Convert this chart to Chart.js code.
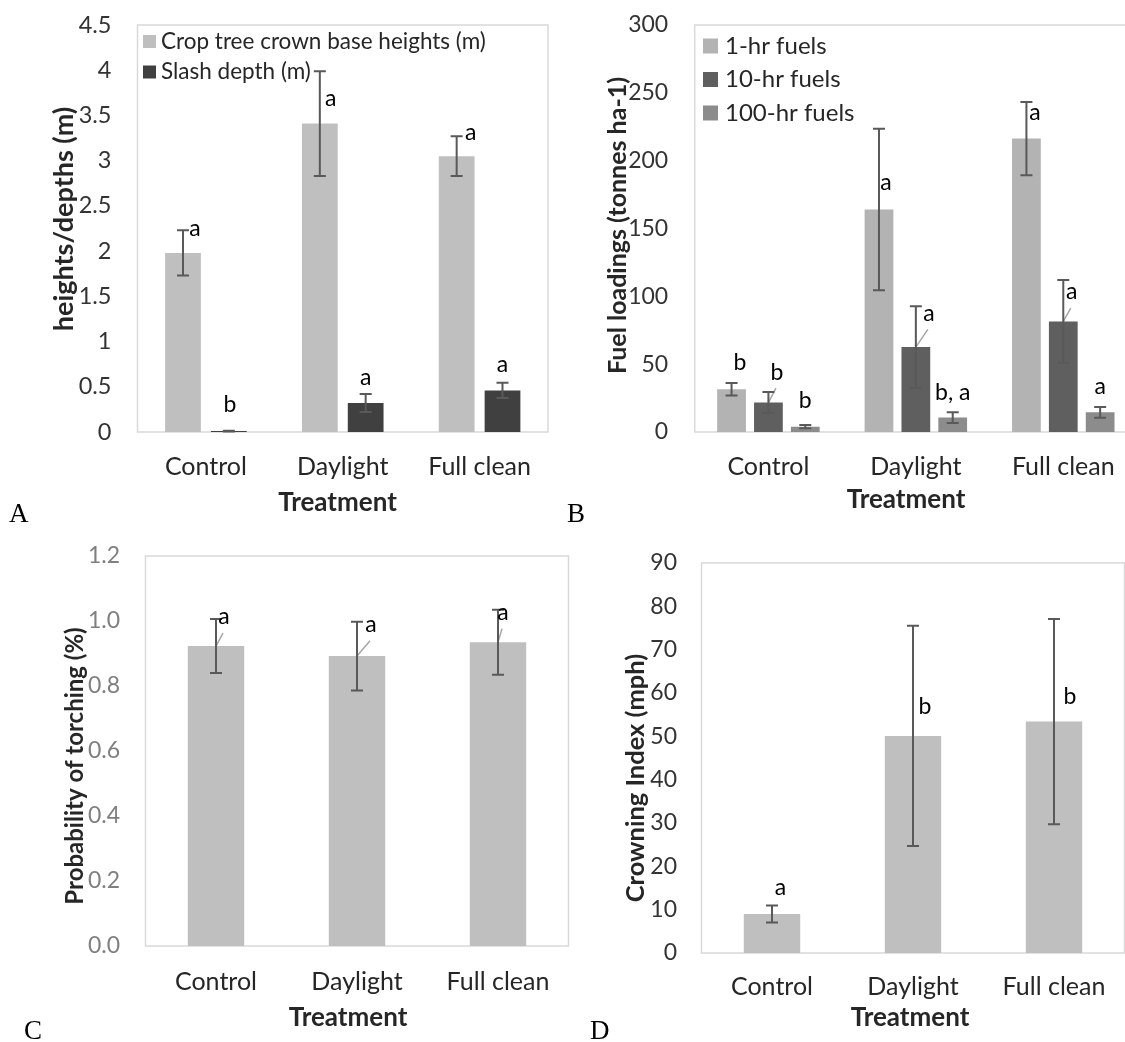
<!DOCTYPE html>
<html>
<head>
<meta charset="utf-8">
<script src="https://cdn.jsdelivr.net/npm/chart.js@4.4.1/dist/chart.umd.min.js"></script>
<style>
html,body{margin:0;padding:0;background:#fff;overflow:hidden;width:1125px;height:1042px;}
#wrap{position:relative;width:1125px;height:1042px;overflow:hidden;background:#fff;}
canvas{position:absolute;}
.plabel{position:absolute;font-family:"Liberation Serif","Times New Roman",serif;font-size:27px;line-height:27px;color:#000;}
</style>
</head>
<body>
<div id="wrap">
  <canvas id="cA"></canvas>
  <canvas id="cB"></canvas>
  <canvas id="cC"></canvas>
  <canvas id="cD"></canvas>
  <div class="plabel" style="left:9px;top:500px;">A</div>
  <div class="plabel" style="left:567px;top:500px;">B</div>
  <div class="plabel" style="left:24px;top:1017px;">C</div>
  <div class="plabel" style="left:590px;top:1017px;">D</div>
</div>
<script>
// ---------------- DATA ----------------
const categories = ['Control', 'Daylight', 'Full clean'];

// Panel A
const crownBaseHeights = [1.98, 3.41, 3.05];
const crownBaseErr = [0.25, 0.58, 0.22];
const crownBaseLetters = ['a', 'a', 'a'];
const slashDepth = [0.01, 0.32, 0.46];
const slashDepthErr = [0.005, 0.10, 0.085];
const slashDepthLetters = ['b', 'a', 'a'];

// Panel B
const fuels1hr = [31.5, 164, 216.3];
const fuels1hrErr = [4.6, 59.5, 27];
const fuels1hrLetters = ['b', 'a', 'a'];
const fuels10hr = [21.7, 62.6, 81.5];
const fuels10hrErr = [7.7, 30, 30.5];
const fuels10hrLetters = ['b', 'a', 'a'];
const fuels100hr = [3.9, 10.6, 14.5];
const fuels100hrErr = [1.2, 4, 4];
const fuels100hrLetters = ['b', 'b, a', 'a'];

// Panel C
const torchingProb = [0.923, 0.892, 0.935];
const torchingErr = [0.083, 0.106, 0.10];
const torchingLetters = ['a', 'a', 'a'];

// Panel D
const crowningIndex = [9.0, 50.1, 53.4];
const crowningErr = [1.95, 25.4, 23.7];
const crowningLetters = ['a', 'b', 'b'];

// Tick labels
const ticksA = ['0', '0.5', '1', '1.5', '2', '2.5', '3', '3.5', '4', '4.5'];
const ticksB = ['0', '50', '100', '150', '200', '250', '300'];
const ticksC = ['0.0', '0.2', '0.4', '0.6', '0.8', '1.0', '1.2'];
const ticksD = ['0', '10', '20', '30', '40', '50', '60', '70', '80', '90'];

// ---------------- STYLE / LAYOUT ----------------
const FONT = 'Lato, "Noto Sans", sans-serif';
const TXT = '#262626';

const annotPlugin = {
  id: 'annot',
  beforeDatasetsDraw(chart, args, o) {
    const {ctx, chartArea: a} = chart;
    ctx.save();
    ctx.strokeStyle = '#d9d9d9';
    ctx.lineWidth = 1.5;
    ctx.strokeRect(a.left, a.top, a.right - a.left, a.bottom - a.top);
    ctx.restore();
  },
  afterDatasetsDraw(chart, args, o) {
    const ctx = chart.ctx, ys = chart.scales.y;
    chart.data.datasets.forEach((ds, di) => {
      const meta = chart.getDatasetMeta(di);
      meta.data.forEach((bar, i) => {
        const v = ds.data[i], e = ds.errors[i];
        const x = bar.x;
        const yt = ys.getPixelForValue(v + e);
        const yb = ys.getPixelForValue(Math.max(v - e, 0));
        const [dx, dy] = o.offsets[di][i];
        const lx = x + dx, ly = yt + dy;
        ctx.save();
        if (o.leaders[di][i]) {
          ctx.strokeStyle = '#a6a6a6';
          ctx.lineWidth = 1.5;
          ctx.beginPath();
          ctx.moveTo(x, ys.getPixelForValue(v));
          ctx.lineTo(lx - 1, ly + 16);
          ctx.stroke();
        }
        ctx.strokeStyle = '#595959';
        ctx.lineWidth = 2;
        ctx.beginPath();
        ctx.moveTo(x, yt); ctx.lineTo(x, yb);
        ctx.moveTo(x - 6, yt); ctx.lineTo(x + 6, yt);
        ctx.moveTo(x - 6, yb); ctx.lineTo(x + 6, yb);
        ctx.stroke();
        ctx.fillStyle = '#000';
        ctx.font = o.letterFont + 'px ' + FONT;
        ctx.textAlign = 'center';
        ctx.textBaseline = 'middle';
        ctx.fillText(ds.letters[i], lx, ly);
        ctx.restore();
      });
    });
  },
  afterDraw(chart, args, o) {
    const ctx = chart.ctx;
    ctx.save();
    ctx.fillStyle = TXT;
    ctx.textAlign = 'center';
    ctx.textBaseline = 'middle';
    ctx.font = 'bold ' + o.xTitle.font + 'px ' + FONT;
    ctx.fillText(o.xTitle.text, o.xTitle.x, o.xTitle.y);
    ctx.save();
    ctx.font = 'bold ' + o.yTitle.font + 'px ' + FONT;
    ctx.translate(o.yTitle.x, o.yTitle.y);
    ctx.rotate(-Math.PI / 2);
    ctx.fillText(o.yTitle.text, 0, 0);
    ctx.restore();
    // legend built from the datasets
    if (o.legend) {
      const L = o.legend;
      ctx.font = L.font + 'px ' + FONT;
      ctx.textAlign = 'left';
      chart.data.datasets.forEach((ds, i) => {
        const yc = L.y + i * L.pitch;
        ctx.fillStyle = ds.backgroundColor;
        ctx.fillRect(L.x, yc - L.box / 2, L.box, L.box);
        ctx.fillStyle = TXT;
        ctx.fillText(ds.label, L.textX, yc);
      });
    }
    ctx.restore();
  }
};

function buildChart(id, L, datasets, yRange, tickLabels) {
  const cv = document.getElementById(id);
  cv.width = L.canvas.w; cv.height = L.canvas.h;
  cv.style.left = L.canvas.left + 'px'; cv.style.top = L.canvas.top + 'px';
  cv.style.width = L.canvas.w + 'px'; cv.style.height = L.canvas.h + 'px';
  const a = L.area;
  const noPad = s => { s.paddingTop = 0; s.paddingBottom = 0; s.paddingLeft = 0; s.paddingRight = 0; };
  return new Chart(cv, {
    type: 'bar',
    data: {labels: categories, datasets: datasets.map((d, i) => ({
      label: d.label, data: d.data, errors: d.errors, letters: d.letters,
      backgroundColor: L.colors[i], borderWidth: 0,
      categoryPercentage: L.catPct, barPercentage: L.barPct
    }))},
    options: {
      responsive: false, animation: false, devicePixelRatio: 1,
      layout: {padding: {left: 0, top: a.t, right: L.canvas.w - a.r, bottom: 0}},
      plugins: {
        tooltip: {enabled: false},
        legend: {display: false},
        annot: {
          offsets: L.offsets, leaders: L.leaders, letterFont: 23,
          xTitle: {text: 'Treatment', x: L.xTitle.x, y: L.xTitle.y, font: 26},
          yTitle: {text: L.yTitle.text, x: L.yTitle.x, y: L.yTitle.y, font: L.yTitle.font},
          legend: L.legend || null
        }
      },
      scales: {
        x: {
          grid: {display: false, drawTicks: false}, border: {display: false},
          ticks: {font: {family: FONT, size: 25}, color: TXT, padding: L.xPad},
          afterFit: s => { s.height = L.canvas.h - a.b; noPad(s); }
        },
        y: {
          min: yRange.min, max: yRange.max,
          grid: {display: false, drawTicks: false}, border: {display: false},
          ticks: {stepSize: yRange.step, font: {family: FONT, size: L.tickFont}, color: L.tickColor,
            padding: L.tickPad, callback: (v, i) => tickLabels[i]},
          afterFit: s => { s.width = a.l; noPad(s); }
        }
      }
    },
    plugins: [annotPlugin]
  });
}

const LA = {
  canvas: {left: 0, top: 0, w: 560, h: 520}, area: {l: 137.5, t: 25, r: 548, b: 432},
  colors: ['#bfbfbf', '#404040'], catPct: 0.67, barPct: 0.78,
  tickColor: '#333333', tickFont: 23.5, tickPad: 26, xPad: 20,
  yTitle: {text: 'heights/depths (m)', x: 64, y: 219, font: 27}, xTitle: {x: 337.5, y: 503},
  legend: {x: 143, y: 41.5, pitch: 30.5, box: 13, textX: 161, font: 22.5},
  offsets: [[[12, -2], [11, 27], [14, -4]], [[1, -26], [0, -16], [0, -18]]],
  leaders: [[0, 0, 0], [0, 0, 0]]
};
const LB = {
  canvas: {left: 560, top: 0, w: 590, h: 520}, area: {l: 134.7, t: 25, r: 577, b: 432},
  colors: ['#b3b3b3', '#5f5f5f', '#8c8c8c'], catPct: 0.75, barPct: 0.78,
  tickColor: '#333333', tickFont: 23, tickPad: 26.5, xPad: 20,
  yTitle: {text: 'Fuel loadings (tonnes ha-1)', x: 58, y: 225.5, font: 25}, xTitle: {x: 346, y: 500},
  legend: {x: 143, y: 46, pitch: 33.5, box: 15, textX: 165, font: 24},
  offsets: [[[8.5, -20], [7, 54], [8.5, 11]], [[8.5, -20], [13, 7], [8.5, 12]], [[0, -25], [0, -20], [0, -20]]],
  leaders: [[0, 0, 0], [1, 1, 1], [0, 0, 0]]
};
const LC = {
  canvas: {left: 0, top: 520, w: 580, h: 522}, area: {l: 145.5, t: 36, r: 568.5, b: 426},
  colors: ['#bfbfbf'], catPct: 0.8, barPct: 0.5,
  tickColor: '#7f7f7f', tickFont: 23, tickPad: 25.5, xPad: 21,
  yTitle: {text: 'Probability of torching (%)', x: 75, y: 246, font: 24}, xTitle: {x: 348, y: 498},
  offsets: [[[8, -2], [14, 3], [5, 3]]],
  leaders: [[1, 1, 1]]
};
const LD = {
  canvas: {left: 560, top: 520, w: 565, h: 522}, area: {l: 141.5, t: 43, r: 564.5, b: 433},
  colors: ['#bfbfbf'], catPct: 0.8, barPct: 0.5,
  tickColor: '#333333', tickFont: 23, tickPad: 24.5, xPad: 19,
  yTitle: {text: 'Crowning Index (mph)', x: 76, y: 258, font: 25.5}, xTitle: {x: 350, y: 498},
  offsets: [[[8.5, -18], [12, 81], [16, 78]]],
  leaders: [[0, 0, 0]]
};

buildChart('cA', LA, [
  {label: 'Crop tree crown base heights (m)', data: crownBaseHeights, errors: crownBaseErr, letters: crownBaseLetters},
  {label: 'Slash depth (m)', data: slashDepth, errors: slashDepthErr, letters: slashDepthLetters}
], {min: 0, max: 4.5, step: 0.5}, ticksA);

buildChart('cB', LB, [
  {label: '1-hr fuels', data: fuels1hr, errors: fuels1hrErr, letters: fuels1hrLetters},
  {label: '10-hr fuels', data: fuels10hr, errors: fuels10hrErr, letters: fuels10hrLetters},
  {label: '100-hr fuels', data: fuels100hr, errors: fuels100hrErr, letters: fuels100hrLetters}
], {min: 0, max: 300, step: 50}, ticksB);

buildChart('cC', LC, [
  {label: 'Probability of torching (%)', data: torchingProb, errors: torchingErr, letters: torchingLetters}
], {min: 0, max: 1.2, step: 0.2}, ticksC);

buildChart('cD', LD, [
  {label: 'Crowning Index (mph)', data: crowningIndex, errors: crowningErr, letters: crowningLetters}
], {min: 0, max: 90, step: 10}, ticksD);
</script>
</body>
</html>
